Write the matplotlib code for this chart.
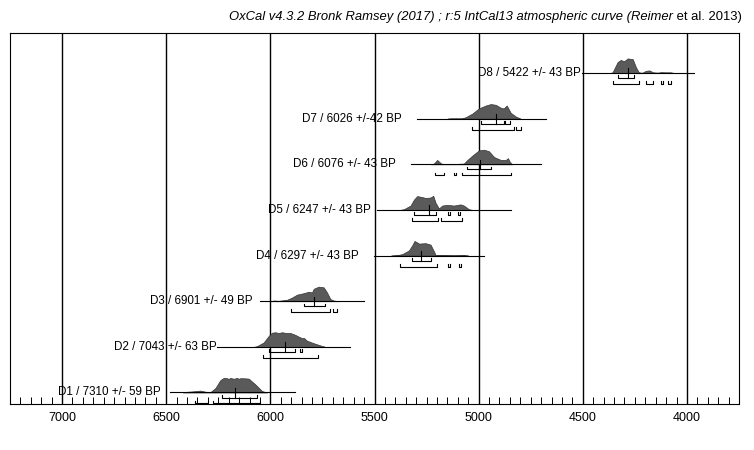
import matplotlib
matplotlib.use('Agg')
import matplotlib.pyplot as plt
import numpy as np

plt.rcParams['font.family'] = ['Liberation Sans', 'DejaVu Sans']

# date labels, bottom to top
labels = ["D1 / 7310 +/- 59 BP", "D2 / 7043 +/- 63 BP", "D3 / 6901 +/- 49 BP",
          "D4 / 6297 +/- 43 BP", "D5 / 6247 +/- 43 BP", "D6 / 6076 +/- 43 BP",
          "D7 / 6026 +/-42 BP", "D8 / 5422 +/- 43 BP"]

# calibrated probability (cal BP, relative height)
d1_years = [6420, 6400, 6370, 6337, 6310, 6288, 6264, 6240, 6224, 6208, 6200, 6192, 6176, 6160, 6152, 6144, 6120, 6104, 6072, 6040, 6016]
d1_dens = [0, 0.05, 0.08, 0.13, 0.05, 0.03, 0.3, 0.85, 1.0, 0.98, 0.93, 1.0, 0.94, 1.0, 0.94, 0.98, 0.97, 0.95, 0.55, 0.1, 0]
d2_years = [6080, 6064, 6032, 6008, 5992, 5976, 5960, 5944, 5928, 5904, 5880, 5864, 5848, 5840, 5824, 5792, 5760, 5736]
d2_dens = [0, 0.05, 0.3, 0.75, 0.97, 1.0, 0.95, 1.0, 0.96, 0.95, 0.82, 0.7, 0.6, 0.62, 0.42, 0.25, 0.1, 0]
d3_years = [6000, 5984, 5960, 5920, 5896, 5872, 5840, 5816, 5800, 5792, 5768, 5744, 5728, 5712, 5696, 5672]
d3_dens = [0, 0.05, 0.03, 0.1, 0.25, 0.45, 0.55, 0.65, 0.6, 0.85, 1.0, 0.95, 0.6, 0.15, 0.05, 0]
d4_years = [5420, 5391, 5367, 5335, 5319, 5308, 5295, 5287, 5255, 5231, 5215, 5207, 5190, 5167, 5120, 5071, 5050]
d4_dens = [0, 0.03, 0.1, 0.35, 0.7, 1.0, 0.9, 0.82, 0.85, 0.75, 0.3, 0.05, 0.03, 0.03, 0.02, 0.03, 0]
d5_years = [5380, 5359, 5327, 5311, 5295, 5271, 5255, 5231, 5218, 5207, 5191, 5175, 5151, 5119, 5087, 5071, 5047, 5030]
d5_dens = [0, 0.05, 0.3, 0.7, 0.95, 0.88, 0.82, 0.85, 0.97, 0.5, 0.1, 0.3, 0.35, 0.3, 0.38, 0.3, 0.05, 0]
d6_years = [5230, 5215, 5199, 5180, 5167, 5120, 5071, 5054, 5030, 4999, 4975, 4951, 4926, 4894, 4870, 4859, 4850, 4838]
d6_dens = [0, 0.05, 0.3, 0.05, 0.02, 0.02, 0.05, 0.3, 0.6, 0.95, 1.0, 0.9, 0.5, 0.3, 0.3, 0.42, 0.15, 0]
d7_years = [5150, 5135, 5080, 5062, 5030, 4999, 4966, 4942, 4918, 4894, 4880, 4865, 4846, 4822, 4798]
d7_dens = [0, 0.02, 0.02, 0.1, 0.35, 0.7, 0.9, 1.0, 0.95, 0.75, 0.7, 0.9, 0.4, 0.15, 0]
d8_years = [4370, 4357, 4333, 4317, 4303, 4284, 4260, 4245, 4231, 4215, 4197, 4180, 4163, 4140, 4125, 4100, 4077, 4060]
d8_dens = [0, 0.05, 0.75, 0.9, 0.8, 1.0, 0.95, 0.4, 0.05, 0.02, 0.15, 0.18, 0.05, 0.03, 0.06, 0.05, 0.05, 0]

curve_years = [d1_years, d2_years, d3_years, d4_years, d5_years, d6_years, d7_years, d8_years]
curve_dens = [d1_dens, d2_dens, d3_dens, d4_dens, d5_dens, d6_dens, d7_dens, d8_dens]

# extent of the horizontal line under each curve
line_start = [6481, 6256, 6048, 5503, 5487, 5327, 5298, 4502]
line_end = [5880, 5619, 5551, 4975, 4846, 4702, 4678, 3966]
# where the label text ends
label_end = [6529, 6256, 6088, 5577, 5519, 5399, 5372, 4510]

# median marks
medians = [6168, 5931, 5792, 5279, 5239, 4994, 4918, 4285]

# 68.2% ranges
sigma1 = [[(6232, 6064)],
          [(6005, 5880), (5858, 5850)],
          [(5840, 5736)],
          [(5319, 5231)],
          [(5311, 5207), (5147, 5139), (5099, 5091)],
          [(5054, 4939)],
          [(4990, 4878), (4875, 4849)],
          [(4333, 4255)]]
# 95.4% ranges
sigma2 = [[(6361, 6301), (6273, 6051)],
          [(6035, 5773)],
          [(5901, 5712), (5699, 5680)],
          [(5378, 5202), (5147, 5139), (5095, 5087)],
          [(5319, 5196), (5183, 5079)],
          [(5210, 5167), (5119, 5111), (5082, 4843)],
          [(5030, 4830), (4822, 4798)],
          [(4357, 4231), (4197, 4163), (4125, 4115), (4091, 4077)]]

fig = plt.figure(figsize=(7.54, 4.5), dpi=100)
ax = fig.add_axes([10 / 754, 1 - 404 / 450, 729 / 754, 371 / 450])

hscale = 0.32
for i in range(len(labels)):
    y0 = i + 1
    yrs = np.array(curve_years[i])
    dens = np.array(curve_dens[i])
    ax.fill_between(yrs, y0, y0 + dens * hscale, facecolor='#5a5a5a', edgecolor='#333333', lw=0.5, zorder=3)
    ax.plot([line_start[i], line_end[i]], [y0, y0], color='black', lw=0.8, zorder=4)
    ax.text(label_end[i], y0, labels[i], ha='right', va='center', fontsize=8.4, zorder=5)
    # range brackets under the line
    for rng, dy in [(sigma1[i], 0.11), (sigma2[i], 0.24)]:
        for a, b in rng:
            ax.plot([a, a, b, b], [y0 - dy + 0.06, y0 - dy, y0 - dy, y0 - dy + 0.06],
                    color='black', lw=0.8, zorder=4)
    ax.plot([medians[i], medians[i]], [y0 + 0.1, y0 - 0.11], color='black', lw=0.8, zorder=4)

ax.set_xlim(7250, 3750)
ax.set_ylim(0.748, 8.877)
ax.set_yticks([])
ax.set_xticks(np.arange(4000, 7001, 500))
ax.set_xticks(np.arange(3750, 7251, 50), minor=True)
ax.tick_params(axis='x', which='major', length=0, pad=6, labelsize=9)
ax.tick_params(axis='x', which='minor', direction='in', length=5, width=0.7)
for x in np.arange(4000, 7001, 500):
    ax.axvline(x, color='black', lw=1.0, zorder=2)
for s in ax.spines.values():
    s.set_linewidth(0.8)

# title: italic part then upright "et al. 2013)"
t2 = fig.text(742 / 754, 1 - 20 / 450, " et al. 2013)", ha='right', va='baseline', fontsize=9.4)
ax.annotate("OxCal v4.3.2 Bronk Ramsey (2017) ; r:5 IntCal13 atmospheric curve (Reimer",
            xy=(0, 0), xycoords=t2, ha='right', va='bottom', fontsize=9.4, style='italic',
            annotation_clip=False)

fig.savefig('out.png', dpi=100)
